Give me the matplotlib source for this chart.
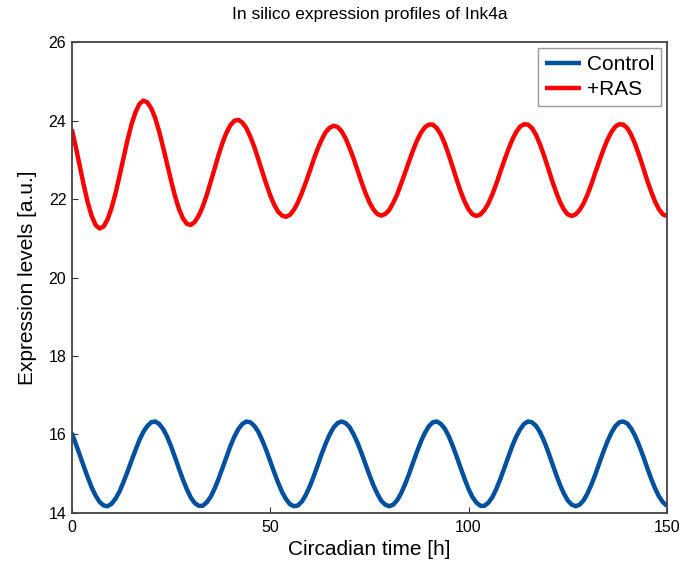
import matplotlib
matplotlib.use("Agg")
import matplotlib.pyplot as plt

plt.rcParams['font.family'] = ['Liberation Sans', 'DejaVu Sans']

# Simulated time course, sampled every hour
time_h = list(range(0, 151))

control = [
    16.04, 15.76, 15.48, 15.19, 14.91, 14.65, 14.44, 14.28, 14.19, 14.17,
    14.23, 14.36, 14.54, 14.78, 15.04, 15.32, 15.59, 15.85, 16.06, 16.21,
    16.31, 16.33, 16.27, 16.14, 15.95, 15.70, 15.42, 15.13, 14.85, 14.60,
    14.39, 14.25, 14.18, 14.18, 14.27, 14.41, 14.62, 14.87, 15.15, 15.43,
    15.71, 15.95, 16.14, 16.27, 16.33, 16.31, 16.22, 16.07, 15.85, 15.60,
    15.32, 15.04, 14.77, 14.53, 14.35, 14.22, 14.17, 14.19, 14.29, 14.46,
    14.68, 14.94, 15.22, 15.51, 15.77, 16.00, 16.18, 16.29, 16.33, 16.29,
    16.19, 16.01, 15.79, 15.53, 15.25, 14.97, 14.71, 14.49, 14.31, 14.21,
    14.17, 14.21, 14.32, 14.50, 14.73, 14.99, 15.28, 15.56, 15.82, 16.04,
    16.21, 16.31, 16.33, 16.27, 16.15, 15.96, 15.71, 15.44, 15.15, 14.87,
    14.61, 14.40, 14.26, 14.18, 14.18, 14.26, 14.40, 14.61, 14.86, 15.14,
    15.42, 15.70, 15.94, 16.13, 16.27, 16.33, 16.31, 16.22, 16.06, 15.84,
    15.58, 15.29, 15.00, 14.73, 14.50, 14.32, 14.21, 14.17, 14.21, 14.32,
    14.50, 14.73, 14.99, 15.28, 15.56, 15.82, 16.04, 16.21, 16.31, 16.33,
    16.28, 16.15, 15.96, 15.72, 15.45, 15.16, 14.88, 14.63, 14.42, 14.27,
    14.18,
]

ras = [
    23.78, 23.33, 22.84, 22.36, 21.92, 21.57, 21.34, 21.25, 21.30, 21.48,
    21.77, 22.14, 22.58, 23.04, 23.49, 23.89, 24.20, 24.42, 24.51, 24.47,
    24.32, 24.07, 23.73, 23.33, 22.90, 22.48, 22.08, 21.75, 21.51, 21.37,
    21.34, 21.42, 21.58, 21.81, 22.10, 22.44, 22.78, 23.13, 23.44, 23.70,
    23.89, 24.00, 24.02, 23.95, 23.81, 23.59, 23.33, 23.02, 22.70, 22.39,
    22.10, 21.86, 21.68, 21.58, 21.55, 21.60, 21.73, 21.92, 22.16, 22.43,
    22.72, 23.02, 23.29, 23.52, 23.71, 23.82, 23.87, 23.84, 23.73, 23.55,
    23.31, 23.04, 22.74, 22.44, 22.16, 21.92, 21.74, 21.62, 21.58, 21.62,
    21.72, 21.90, 22.12, 22.39, 22.67, 22.96, 23.24, 23.49, 23.69, 23.83,
    23.90, 23.90, 23.81, 23.65, 23.42, 23.13, 22.82, 22.50, 22.20, 21.94,
    21.74, 21.61, 21.57, 21.61, 21.72, 21.89, 22.12, 22.39, 22.69, 22.98,
    23.26, 23.51, 23.71, 23.85, 23.91, 23.90, 23.81, 23.64, 23.40, 23.12,
    22.81, 22.49, 22.20, 21.94, 21.74, 21.61, 21.57, 21.61, 21.72, 21.89,
    22.12, 22.39, 22.69, 22.98, 23.26, 23.51, 23.71, 23.85, 23.91, 23.90,
    23.81, 23.64, 23.40, 23.12, 22.81, 22.49, 22.20, 21.94, 21.74, 21.61,
    21.57,
]

series_labels = ["Control", "+RAS"]
series_colors = ["#0050A0", "#FF0000"]

x_ticks = [0, 50, 100, 150]
y_ticks = [14, 16, 18, 20, 22, 24, 26]

fig = plt.figure(figsize=(6.84, 5.63), dpi=100)
ax = fig.add_axes([0.105, 0.089, 0.870, 0.836])

for values, label, color in zip([control, ras], series_labels, series_colors):
    ax.plot(time_h, values, color=color, lw=3.2, label=label,
            solid_joinstyle='round', solid_capstyle='butt')

ax.set_xlim(0, 150)
ax.set_ylim(14, 26)
ax.set_xticks(x_ticks)
ax.set_yticks(y_ticks)
ax.tick_params(direction='in', length=4, width=0.8, labelsize=11.5,
               colors='#333333', labelcolor='black', top=False, right=False)
ax.tick_params(axis='x', pad=5)
ax.tick_params(axis='y', pad=4)

for side in ['left', 'bottom', 'top', 'right']:
    ax.spines[side].set_color('#444444')
    ax.spines[side].set_linewidth(1.3)

ax.set_title("In silico expression profiles of Ink4a", fontsize=12.5, pad=17)
ax.set_xlabel("Circadian time [h]", fontsize=15, labelpad=4)
ax.set_ylabel("Expression levels [a.u.]", fontsize=15, labelpad=8)

leg = ax.legend(loc='upper right', fontsize=15, frameon=True, fancybox=False,
                edgecolor='#999999', framealpha=1.0, handlelength=1.75,
                handletextpad=0.25, borderpad=0.32, labelspacing=0.3,
                borderaxespad=0.3)
leg.get_frame().set_linewidth(1.0)

fig.savefig("out.png", dpi=100)
